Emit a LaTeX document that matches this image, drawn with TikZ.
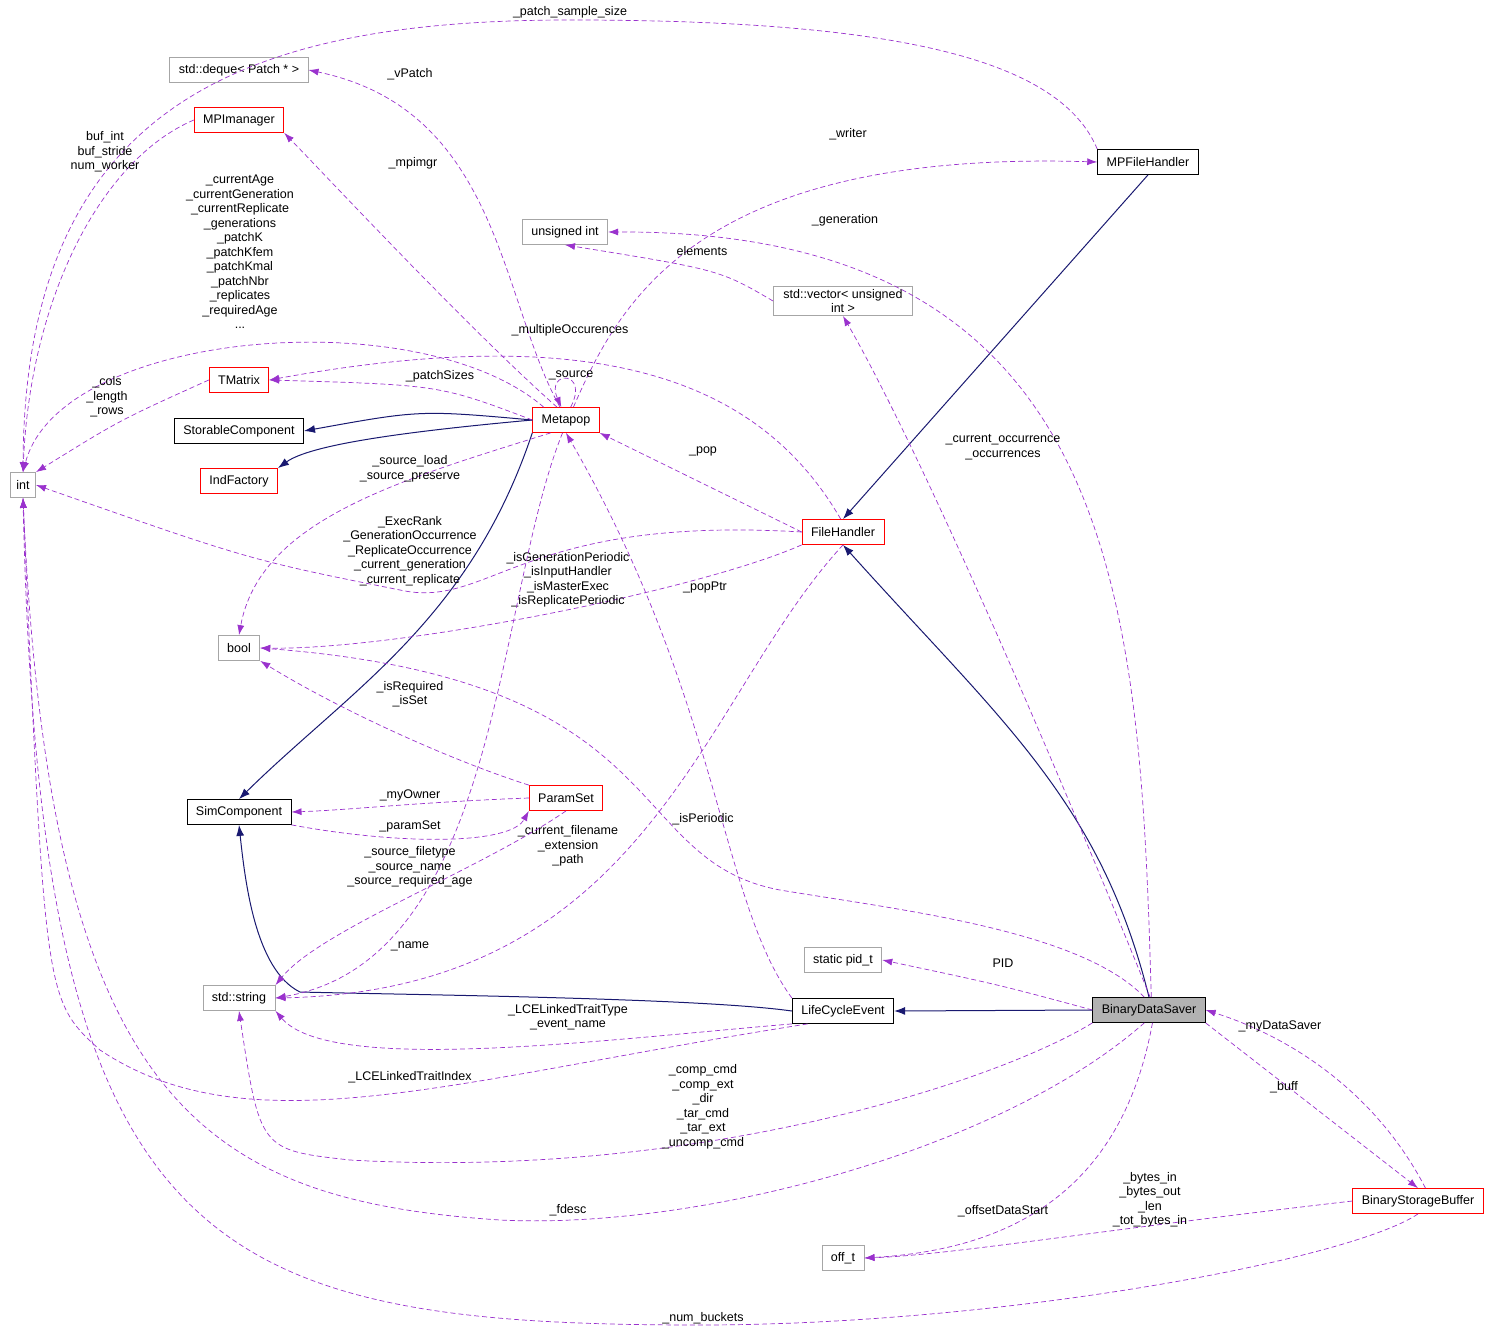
\documentclass[tikz,border=0pt]{standalone}
\usepackage{fontspec}
\setmainfont{Liberation Sans}
\usetikzlibrary{arrows.meta}
\definecolor{dorchid}{RGB}{154,50,205}
\definecolor{mblue}{RGB}{25,25,112}
\begin{document}
\begin{tikzpicture}[x=1pt,y=-1pt,
  every node/.style={font=\fontsize{12.5}{14}\selectfont},
  box/.style={draw,fill=white,minimum height=25pt,inner xsep=9pt,inner ysep=3pt,line width=0.8pt},
  gbox/.style={box,draw=black!35},
  rbox/.style={box,draw=red},
  kbox/.style={box,draw=black},
  lab/.style={align=center,inner sep=0pt,font=\fontsize{12.5}{14.5}\selectfont},
  dep/.style={draw=dorchid,line width=0.7pt,dash pattern=on 5pt off 3pt,-{Latex[length=10pt,width=7pt]}},
  inh/.style={draw=mblue,line width=1pt,-{Latex[length=11pt,width=8pt]}}]
\useasboundingbox (0,0) rectangle (1493,1332);
\node[gbox,inner xsep=6pt] (int) at (23,485) {int};
\node[gbox] (deque) at (239,70) {std::deque< Patch * >};
\node[rbox] (mpi) at (239,120) {MPImanager};
\node[gbox] (uint) at (565,232) {unsigned int};
\node[kbox] (mpfh) at (1148,162) {MPFileHandler};
\node[gbox,align=center,inner sep=3pt,inner xsep=10pt] (vec) at (843,301) {std::vector< unsigned\\int >};
\node[rbox] (tm) at (239,380) {TMatrix};
\node[kbox] (sc) at (239,431) {StorableComponent};
\node[rbox] (mp) at (566,420) {Metapop};
\node[rbox] (ind) at (239,481) {IndFactory};
\node[rbox] (fh) at (843,532) {FileHandler};
\node[gbox] (bool) at (239,648) {bool};
\node[rbox] (ps) at (566,798) {ParamSet};
\node[kbox] (sim) at (239,812) {SimComponent};
\node[gbox] (pid) at (843,960) {static pid\_t};
\node[gbox] (str) at (239,998) {std::string};
\node[kbox] (lce) at (843,1011) {LifeCycleEvent};
\node[box,fill=black!30] (bds) at (1149,1010) {BinaryDataSaver};
\node[rbox] (bsb) at (1418,1201) {BinaryStorageBuffer};
\node[gbox] (off) at (843,1258) {off\_t};

% inheritance
\draw[inh] (mp.west) .. controls (420,410) .. (sc.east);
\draw[inh] (mp.west) .. controls (400,432) and (310,445) .. (ind.north east);
\draw[inh] (mp.south west) .. controls (470,620) and (350,690) .. (sim.north);
\draw[inh] (mpfh.south) -- (fh.north);
\draw[inh] (bds.north) .. controls (1100,800) and (1000,720) .. (fh.south);
\draw[inh] (bds.west) -- (lce.east);
\draw[inh] (lce.west) .. controls (700,998) and (420,995) .. (300,992) .. controls (255,970) and (245,880) .. (sim.south);

% dependencies
\draw[dep] (mpfh.north west) .. controls (1060,60) and (900,20) .. (570,20) .. controls (250,20) and (25,100) .. (int.north);
\node[lab] at (570,12) {\_patch\_sample\_size};
\draw[dep] (mp.115) .. controls (500,300) and (500,110) .. (deque.east);
\node[lab] at (410,74) {\_vPatch};
\draw[dep] (mp.125) .. controls (470,330) and (330,180) .. (mpi.south east);
\node[lab] at (413,163) {\_mpimgr};
\draw[dep] (mpi.west) .. controls (100,160) and (30,300) .. (int.north);
\node[lab] at (105,152) {buf\_int\\buf\_stride\\num\_worker};
\draw[dep] (mp.60) .. controls (620,300) and (700,150) .. (mpfh.west);
\node[lab] at (848,134) {\_writer};
\draw[dep] (bds.80) .. controls (1140,600) and (1120,230) .. (uint.east);
\node[lab] at (845,220) {\_generation};
\draw[dep] (vec.west) .. controls (720,270) .. (uint.south);
\node[lab] at (702,251) {elements};
\draw[dep] (mp.150) .. controls (420,300) and (60,330) .. (int.north);
\node[lab] at (240,252) {\_currentAge\\\_currentGeneration\\\_currentReplicate\\\_generations\\\_patchK\\\_patchKfem\\\_patchKmal\\\_patchNbr\\\_replicates\\\_requiredAge\\...};
\draw[dep] (mp.west) .. controls (440,385) .. (tm.east);
\node[lab] at (440,376) {\_patchSizes};
\draw[dep] (fh.100) .. controls (760,380) and (600,320) .. (tm.east);
\node[lab] at (570,330) {\_multipleOccurences};
\draw[dep] (mp.70) .. controls (590,370) and (545,370) .. (mp.110);
\node[lab] at (571,375) {\_source};
\draw[dep] (tm.west) .. controls (120,420) .. (int.north east);
\node[lab] at (107,397) {\_cols\\\_length\\\_rows};
\draw[dep] (fh.west) -- (mp.south east);
\node[lab] at (703,451) {\_pop};
\draw[dep] (mp.220) .. controls (400,480) and (260,520) .. (bool.north);
\node[lab] at (410,469) {\_source\_load\\\_source\_preserve};
\draw[dep] (fh.west) .. controls (520,515) and (490,610) .. (400,590) .. controls (250,560) .. (int.east);
\node[lab] at (410,551) {\_ExecRank\\\_GenerationOccurrence\\\_ReplicateOccurrence\\\_current\_generation\\\_current\_replicate};
\draw[dep] (fh.south west) .. controls (700,590) and (400,650) .. (bool.east);
\node[lab] at (568,580) {\_isGenerationPeriodic\\\_isInputHandler\\\_isMasterExec\\\_isReplicatePeriodic};
\draw[dep] (lce.north west) .. controls (720,900) and (720,700) .. (mp.south);
\node[lab] at (705,587) {\_popPtr};
\draw[dep] (ps.north west) .. controls (450,760) and (340,710) .. (bool.south east);
\node[lab] at (410,694) {\_isRequired\\\_isSet};
\draw[dep] (bds.110) .. controls (1080,930) and (900,910) .. (780,890) .. controls (620,860) and (680,680) .. (bool.east);
\node[lab] at (703,819) {\_isPeriodic};
\draw[dep] (ps.west) .. controls (420,802) and (350,810) .. (sim.east);
\node[lab] at (410,795) {\_myOwner};
\draw[dep] (sim.south east) .. controls (400,845) and (510,845) .. (ps.south west);
\node[lab] at (410,826) {\_paramSet};
\draw[dep] (mp.255) .. controls (495,600) and (500,960) .. (str.east);
\node[lab] at (410,867) {\_source\_filetype\\\_source\_name\\\_source\_required\_age};
\draw[dep] (fh.south) .. controls (700,700) and (650,990) .. (str.east);
\node[lab] at (568,846) {\_current\_filename\\\_extension\\\_path};
\draw[dep] (ps.south) .. controls (480,870) and (320,930) .. (str.north east);
\node[lab] at (410,946) {\_name};
\draw[dep] (bds.west) .. controls (1000,985) .. (pid.east);
\node[lab] at (1003,963) {PID};
\draw[dep] (lce.south west) .. controls (600,1040) and (330,1075) .. (str.south east);
\node[lab] at (568,1017) {\_LCELinkedTraitType\\\_event\_name};
\draw[dep] (lce.200) .. controls (450,1080) and (250,1150) .. (100,1050) .. controls (45,1000) .. (int.south);
\node[lab] at (410,1077) {\_LCELinkedTraitIndex};
\draw[dep] (bds.south west) .. controls (1000,1080) and (700,1180) .. (350,1160) .. controls (260,1150) .. (str.south);
\node[lab] at (703,1107) {\_comp\_cmd\\\_comp\_ext\\\_dir\\\_tar\_cmd\\\_tar\_ext\\\_uncomp\_cmd};
\draw[dep] (bds.250) .. controls (1000,1150) and (700,1230) .. (500,1220) .. controls (200,1200) and (50,1100) .. (int.south);
\node[lab] at (568,1210) {\_fdesc};
\draw[dep] (bds.285) .. controls (1120,1200) and (1000,1250) .. (off.east);
\node[lab] at (1003,1211) {\_offsetDataStart};
\draw[dep] (bsb.west) .. controls (1100,1230) and (950,1255) .. (off.east);
\node[lab] at (1150,1200) {\_bytes\_in\\\_bytes\_out\\\_len\\\_tot\_bytes\_in};
\draw[dep] (bds.south east) -- (bsb.north);
\node[lab] at (1284,1087) {\_buff};
\draw[dep] (bsb.60) .. controls (1380,1100) and (1300,1040) .. (bds.east);
\node[lab] at (1280,1026) {\_myDataSaver};
\draw[dep] (bsb.south) .. controls (1350,1260) and (1000,1325) .. (700,1325) .. controls (200,1325) and (40,1250) .. (int.south);
\node[lab] at (703,1318) {\_num\_buckets};
\draw[dep] (bds.85) .. controls (1050,750) and (920,450) .. (vec.south);
\node[lab] at (1003,447) {\_current\_occurrence\\\_occurrences};
\end{tikzpicture}
\end{document}
